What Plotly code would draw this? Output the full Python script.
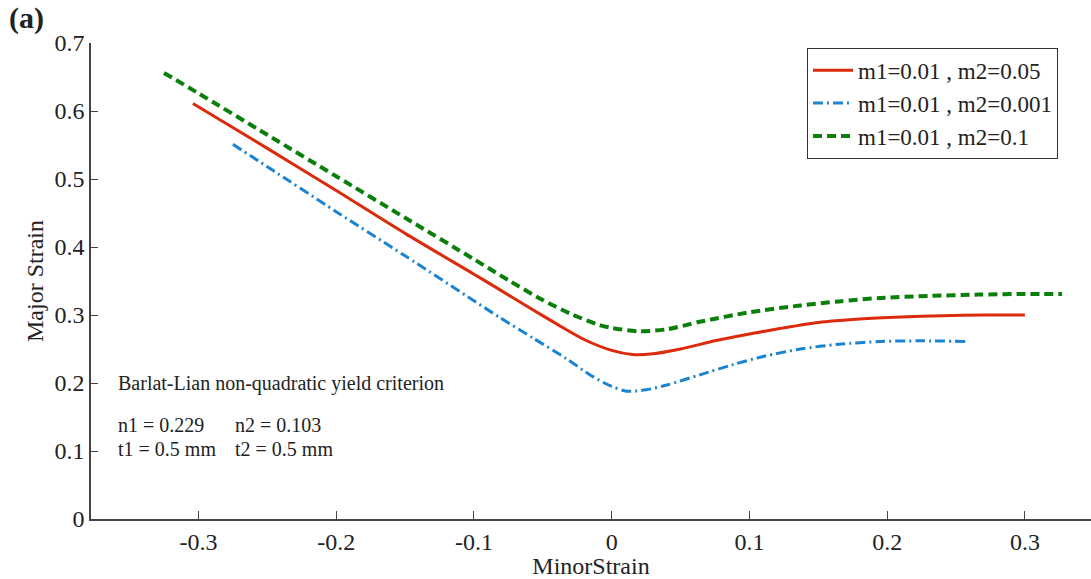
import plotly.graph_objects as go

# Forming limit curves: minor strain vs major strain
red_x = [-0.304, -0.25, -0.2, -0.15, -0.1, -0.081, -0.06, -0.04, -0.02, 0.0, 0.015,
         0.03, 0.05, 0.075, 0.1, 0.122, 0.15, 0.18, 0.21, 0.24, 0.27, 0.300]
red_y = [0.611, 0.545, 0.483, 0.42, 0.36, 0.337, 0.311, 0.287, 0.264, 0.248, 0.242,
         0.243, 0.250, 0.262, 0.272, 0.280, 0.289, 0.294, 0.297, 0.299, 0.300, 0.300]

blue_x = [-0.275, -0.25, -0.2, -0.15, -0.1, -0.081, -0.057, -0.033, -0.015, 0.0, 0.011,
          0.025, 0.04, 0.064, 0.088, 0.11, 0.137, 0.165, 0.195, 0.225, 0.258]
blue_y = [0.551, 0.518, 0.452, 0.387, 0.321, 0.296, 0.266, 0.236, 0.211, 0.195, 0.188,
          0.190, 0.197, 0.212, 0.227, 0.239, 0.250, 0.257, 0.261, 0.262, 0.261]

green_x = [-0.325, -0.3, -0.25, -0.2, -0.15, -0.1, -0.074, -0.05, -0.03, -0.01, 0.0,
           0.02, 0.04, 0.064, 0.1, 0.137, 0.165, 0.195, 0.23, 0.267, 0.3, 0.327]
green_y = [0.656, 0.626, 0.565, 0.504, 0.443, 0.382, 0.350, 0.322, 0.302, 0.286, 0.281,
           0.276, 0.279, 0.290, 0.304, 0.314, 0.320, 0.325, 0.328, 0.330, 0.331, 0.331]

series_names = ["m1=0.01 , m2=0.05", "m1=0.01 , m2=0.001", "m1=0.01 , m2=0.1"]

x_ticks = [-0.3, -0.2, -0.1, 0, 0.1, 0.2, 0.3]
x_tick_text = ["-0.3", "-0.2", "-0.1", "0", "0.1", "0.2", "0.3"]
y_ticks = [0, 0.1, 0.2, 0.3, 0.4, 0.5, 0.6, 0.7]
y_tick_text = ["0", "0.1", "0.2", "0.3", "0.4", "0.5", "0.6", "0.7"]

SERIF = "Liberation Serif, Times New Roman, serif"

fig = go.Figure()
fig.add_trace(go.Scatter(x=red_x, y=red_y, mode="lines", name=series_names[0],
                         line=dict(color="#dc2b0c", width=3, shape="spline", smoothing=0.8)))
fig.add_trace(go.Scatter(x=blue_x, y=blue_y, mode="lines", name=series_names[1],
                         line=dict(color="#1b84d2", width=3, dash="10px,4px,2px,4px",
                                   shape="spline", smoothing=0.8)))
fig.add_trace(go.Scatter(x=green_x, y=green_y, mode="lines", name=series_names[2],
                         line=dict(color="#0a7f0a", width=4, dash="9px,5px",
                                   shape="spline", smoothing=0.8)))

fig.update_layout(
    width=1091, height=579,
    margin=dict(l=91, r=0, t=43, b=60),
    paper_bgcolor="white", plot_bgcolor="white",
    font=dict(family=SERIF, color="#222", size=24),
    showlegend=True,
    legend=dict(x=0.716, y=0.99, xanchor="left", yanchor="top",
                bgcolor="white", bordercolor="#333", borderwidth=1,
                font=dict(family=SERIF, size=23, color="#222"),
                itemwidth=40, tracegroupgap=0),
    xaxis=dict(range=[-0.378, 0.348], tickvals=x_ticks, ticktext=x_tick_text,
               showgrid=False, zeroline=False, showline=True, linecolor="#444",
               linewidth=1.5, ticks="inside", ticklen=8, tickcolor="#444",
               tickfont=dict(family=SERIF, size=24, color="#222"),
               title=dict(text="MinorStrain", font=dict(family=SERIF, size=24, color="#222"),
                          standoff=0)),
    yaxis=dict(range=[0, 0.7], tickvals=y_ticks, ticktext=y_tick_text,
               showgrid=False, zeroline=False, showline=True, linecolor="#444",
               linewidth=1.5, ticks="inside", ticklen=7, tickcolor="#444",
               tickfont=dict(family=SERIF, size=24, color="#222"),
               title=dict(text="Major Strain", font=dict(family=SERIF, size=24, color="#222"),
                          standoff=4)),
)

notes = [
    ("Barlat-Lian non-quadratic yield criterion", -0.3595, 0.200),
    ("n1 = 0.229", -0.3595, 0.138),
    ("n2 = 0.103", -0.275, 0.138),
    ("t1 = 0.5 mm", -0.3595, 0.103),
    ("t2 = 0.5 mm", -0.275, 0.103),
]
for text, nx, ny in notes:
    fig.add_annotation(x=nx, y=ny, xref="x", yref="y", text=text, showarrow=False,
                       xanchor="left", yanchor="middle",
                       font=dict(family=SERIF, size=20, color="#222"))

# panel label in the top-left corner
fig.add_annotation(x=-0.084, y=1.052, xref="paper", yref="paper", text="<b>(a)</b>",
                   showarrow=False, xanchor="left", yanchor="middle",
                   font=dict(family=SERIF, size=30, color="#222"))

fig.write_html("out.html")
